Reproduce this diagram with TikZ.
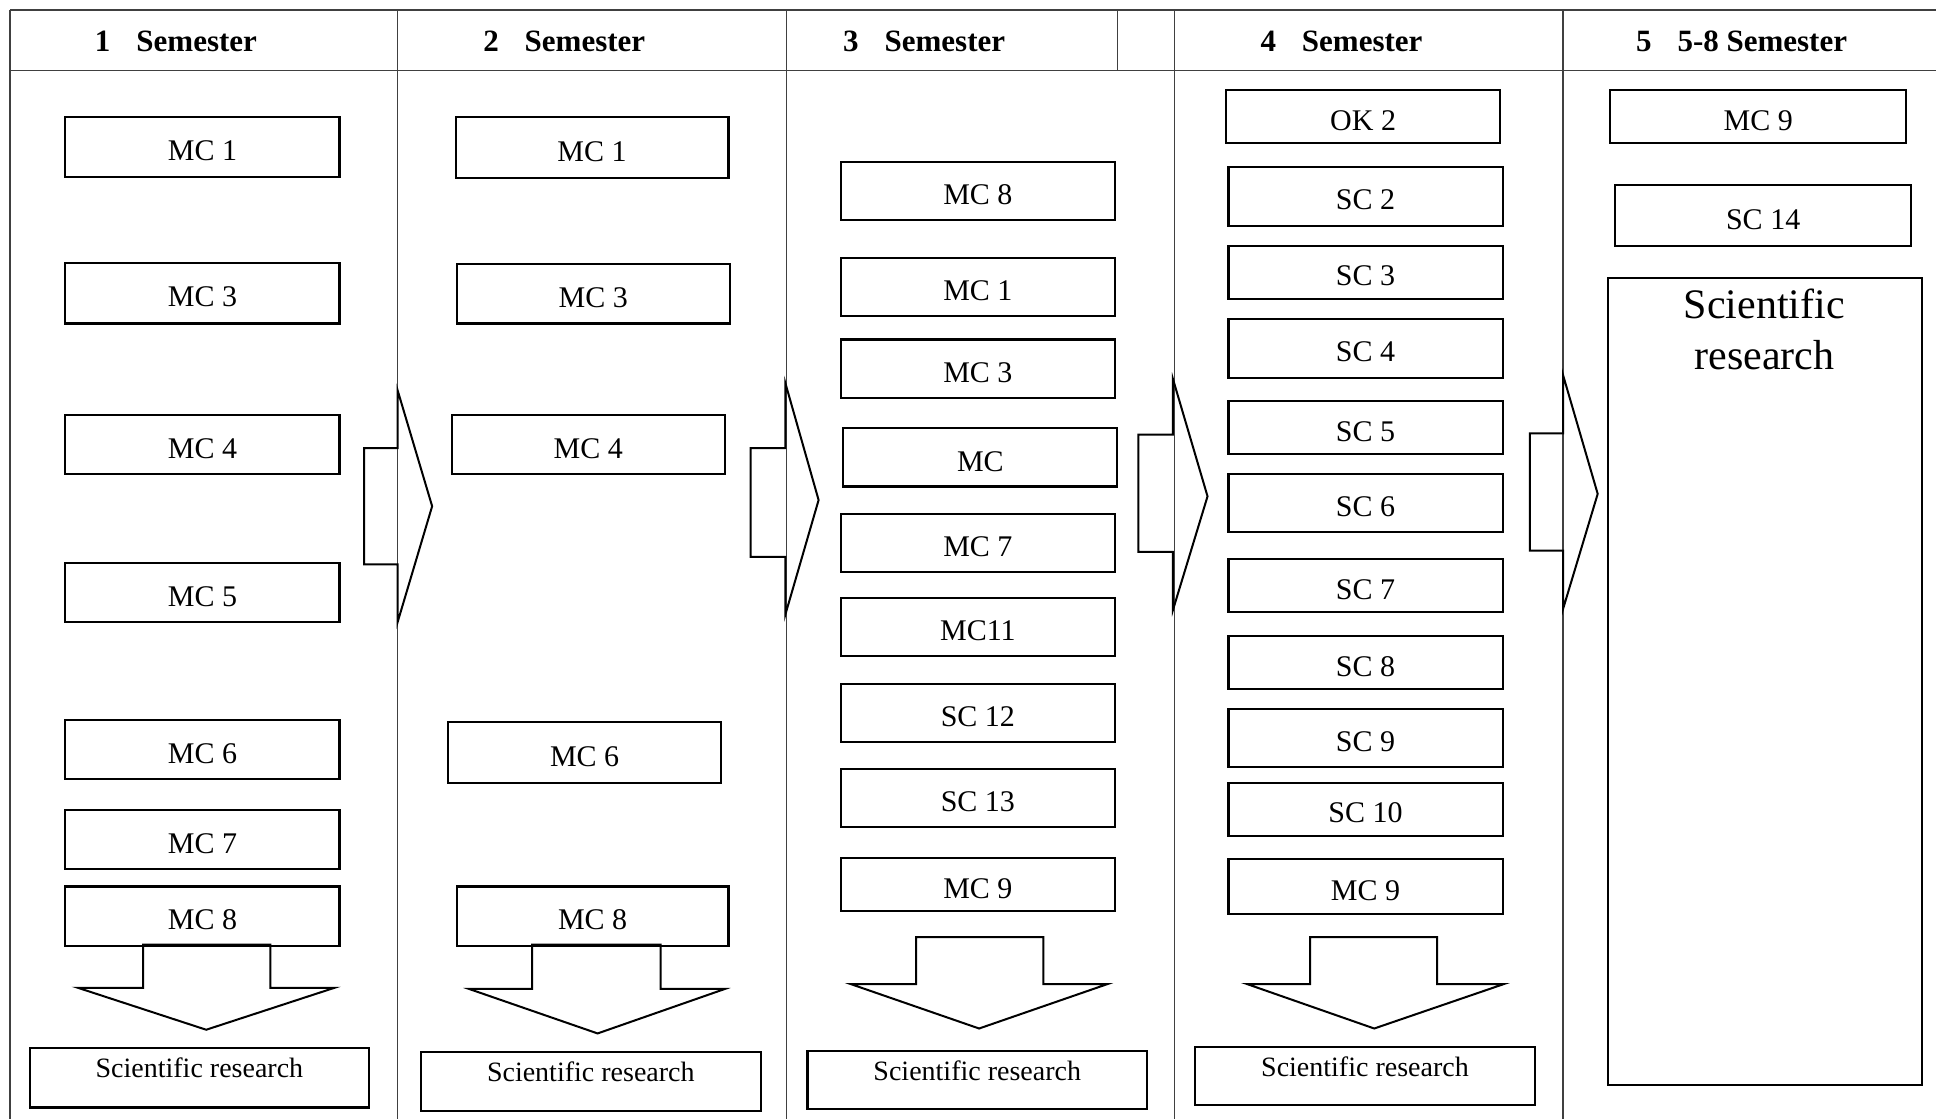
\documentclass[tikz,border=0pt]{standalone}
\usepackage{fontspec}
\setmainfont{Liberation Serif}
\newcommand\bx[6]{\node[box, minimum width={(#4-#2)*1.2347pt}, minimum height={(#5-#3)*1.2347pt}] (#1) at ({(#2+#4)/2},{(#3+#5)/2}) {#6};}
\newcommand\srbox[6]{\node[box, minimum width={(#4-#2)*1.2347pt}, minimum height={(#5-#3)*1.2347pt}] (#1) at ({(#2+#4)/2},{(#3+#5)/2}) {};
\node[srtext] (#1t) at ({(#2+#4)/2},#6) {Scientific research};}
\begin{document}
\begin{tikzpicture}[x=1.2347pt,y=-1.2347pt,
  box/.style={draw, line width=2.1pt, inner sep=0pt, text height=27.3pt, text depth=0pt, font=\fontsize{30}{36}\selectfont},
  srtext/.style={inner sep=0pt, font=\fontsize{28}{34}\selectfont},
  head/.style={inner sep=0pt, font=\bfseries\fontsize{31}{36}\selectfont},
  tbl/.style={draw=black!75, line width=1.3pt},
  blockarrow/.style={draw, line width=2pt, line join=miter}]
\useasboundingbox (0,0) rectangle (1568,906);
% table
\draw[tbl] (8,8) -- (1568,8);
\draw[tbl] (8,57) -- (1568,57);
\foreach \xx in {8,322,637,951,1266} \draw[tbl] (\xx,8) -- (\xx,906);
\draw[tbl] (905,8) -- (905,57);
% headers
\node[head] (h1) at (142.5,33.5) {1\hspace{26pt}Semester};
\node[head] (h2) at (457,33.5) {2\hspace{26pt}Semester};
\node[head] (h3) at (748.5,33.5) {3\hspace{26pt}Semester};
\node[head] (h4) at (1086.5,33.5) {4\hspace{26pt}Semester};
\node[head] (h5) at (1410.5,33.5) {5\hspace{26pt}5-8 Semester};
% column 1
\bx{a1}{53}{95}{275}{143}{MC 1}
\bx{a3}{53}{213}{275}{262}{MC 3}
\bx{a4}{53}{336}{275}{384}{MC 4}
\bx{a5}{53}{456}{275}{504}{MC 5}
\bx{a6}{53}{583}{275}{631}{MC 6}
\bx{a7}{53}{656}{275}{704}{MC 7}
\bx{a8}{53}{718}{275}{766}{MC 8}
\srbox{asr}{24}{849}{299}{897}{865}
% column 2
\bx{b1}{369}{95}{590}{144}{MC 1}
\bx{b3}{370}{214}{591}{262}{MC 3}
\bx{b4}{366}{336}{587}{384}{MC 4}
\bx{b6}{363}{585}{584}{634}{MC 6}
\bx{b8}{370}{718}{590}{766}{MC 8}
\srbox{bsr}{341}{852}{616}{900}{868}
% column 3
\bx{c8}{681}{131}{903}{178}{MC 8}
\bx{c1}{681}{209}{903}{256}{MC 1}
\bx{c3}{681}{275}{903}{322}{MC 3}
\bx{cx}{683}{347}{905}{394}{MC}
\bx{c7}{681}{416}{903}{463}{MC 7}
\bx{c11}{681}{484}{903}{531}{MC11}
\bx{c12}{681}{554}{903}{601}{SC 12}
\bx{c13}{681}{623}{903}{670}{SC 13}
\bx{c9}{681}{695}{903}{738}{MC 9}
\srbox{csr}{654}{851}{929}{898}{867}
% column 4
\bx{d0}{993}{73}{1215}{116}{OK 2}
\bx{d2}{995}{135}{1217}{183}{SC 2}
\bx{d3}{995}{199}{1217}{242}{SC 3}
\bx{d4}{995}{258}{1217}{306}{SC 4}
\bx{d5}{995}{325}{1217}{368}{SC 5}
\bx{d6}{995}{384}{1217}{431}{SC 6}
\bx{d7}{995}{453}{1217}{496}{SC 7}
\bx{d8}{995}{515}{1217}{558}{SC 8}
\bx{d9}{995}{574}{1217}{621}{SC 9}
\bx{d10}{995}{634}{1217}{677}{SC 10}
\bx{d11}{995}{696}{1217}{740}{MC 9}
\srbox{dsr}{968}{848}{1243}{895}{864}
% column 5
\bx{e9}{1304}{73}{1544}{116}{MC 9}
\bx{e14}{1308}{150}{1548}{199}{SC 14}
\node[draw, line width=2.1pt, inner sep=0pt, minimum width={255*1.2347pt}, minimum height={654*1.2347pt}] (esr) at (1429.5,552) {};
\node[inner sep=0pt, align=center, font=\fontsize{42}{50.6}\selectfont] (esrt) at (1429,267) {Scientific\\research};
% right block arrows
\draw[blockarrow] (322,316) -- (322,363) -- (295,363) -- (295,457) -- (322,457) -- (322,504) -- (350,410) -- cycle;
\draw[blockarrow] (636,310) -- (636,363) -- (608,363) -- (608,451) -- (636,451) -- (636,498) -- (663,405) -- cycle;
\draw[blockarrow] (950,307) -- (950,352) -- (922,352) -- (922,447) -- (950,447) -- (950,494) -- (978,402) -- cycle;
\draw[blockarrow] (1266,304) -- (1266,351) -- (1239,351) -- (1239,446) -- (1266,446) -- (1266,493) -- (1294,400) -- cycle;
% down block arrows
\draw[blockarrow] (116,765) -- (219,765) -- (219,800) -- (271,800) -- (167,834) -- (63,800) -- (116,800) -- cycle;
\draw[blockarrow] (431,765) -- (535,765) -- (535,801) -- (587,801) -- (484,837) -- (380,801) -- (431,801) -- cycle;
\draw[blockarrow] (742,759) -- (845,759) -- (845,797) -- (897,797) -- (793,833) -- (689,797) -- (742,797) -- cycle;
\draw[blockarrow] (1061,759) -- (1164,759) -- (1164,797) -- (1218,797) -- (1113,833) -- (1010,797) -- (1061,797) -- cycle;
\end{tikzpicture}
\end{document}
